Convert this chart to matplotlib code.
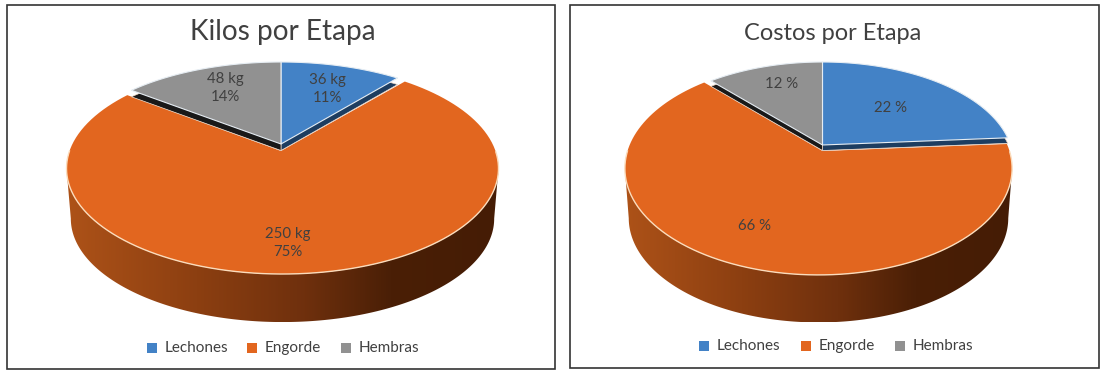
import numpy as np
import matplotlib
matplotlib.use('Agg')
import matplotlib.pyplot as plt
from matplotlib.colors import LinearSegmentedColormap
from matplotlib.patches import Polygon, Rectangle

categories = ['Lechones', 'Engorde', 'Hembras']
kilos = [36, 250, 48]
kilos_pct = [11, 75, 14]
costos = [22, 66, 12]
# slice shares as drawn in the right chart, differ a bit from its typed labels
costos_drawn = [23.8, 64.6, 11.6]

COLORS = ['#4382c6', '#e2661f', '#919191']
STRIP = ['#1d3d60', None, '#191919']
TEXT = '#404040'
plt.rcParams['font.family'] = ['Lato', 'DejaVu Sans']

wall_cmap = LinearSegmentedColormap.from_list(
    'wall', [(0, '#ad5218'), (0.3, '#8c3f11'), (0.55, '#6f300d'),
             (0.75, '#4a1f06'), (1, '#451c05')])


def project(theta, pie, scale=1.0, drop=0.0):
    # theta runs clockwise from the top of the pie, in radians
    u, v = np.sin(theta), np.cos(theta)
    w = 1 + pie['k'] * v
    x = pie['x'] + scale * pie['b'] * u / w
    y = pie['y'] + drop - scale * pie['a'] * v / w
    return x, y


def sector(t0, t1, pie, apex_x=None, shift=0.0):
    t = np.linspace(t0, t1, 120)
    x, y = project(t, pie)
    x = np.r_[pie['x'] if apex_x is None else apex_x, x]
    y = np.r_[pie['y'], y] + shift
    return np.column_stack([x, y])


def draw_pie(ax, values, pie, top):
    values = np.array(values, dtype=float)
    edges = np.r_[0, np.cumsum(values)] / values.sum() * 2 * np.pi

    # side wall with a horizontal gradient
    t = np.linspace(0, 2 * np.pi, 721)
    xt, yt = project(t, pie)
    xb, yb = project(t, pie, pie['scale'], pie['depth'])
    i_r, i_l = np.argmax(xt), np.argmin(xt)
    j_r, j_l = np.argmax(xb), np.argmin(xb)
    wall = np.r_[np.column_stack([xt[i_r:i_l + 1], yt[i_r:i_l + 1]])[::-1],
                 np.column_stack([xb[j_r:j_l + 1], yb[j_r:j_l + 1]])]
    im = ax.imshow(np.linspace(0, 1, 256)[None, :], cmap=wall_cmap, aspect='auto',
                   extent=(xt.min(), xt.max(), yb.max(), yt.min()), zorder=1)
    im.set_clip_path(Polygon(wall, closed=True, transform=ax.transData))

    # orange first, the two other slices sit on top with a dark strip under them
    gap = np.radians(pie['gap'])
    ax.add_patch(Polygon(sector(edges[1] + gap, edges[2] - gap, pie, top['x']),
                         fc=COLORS[1], ec='none', zorder=2))
    low = (t > edges[1]) & (t < edges[2]) & (yt > pie['y'])
    ax.plot(xt[low], yt[low], color='#fbdcbc', lw=1.0, zorder=3)
    for i in (0, 2):
        ax.add_patch(Polygon(sector(edges[i], edges[i + 1], top, shift=top['strip']),
                             fc=STRIP[i], ec='#f3d9c4', lw=0.5, zorder=4))
    for i in (0, 2):
        ax.add_patch(Polygon(sector(edges[i], edges[i + 1], top),
                             fc=COLORS[i], ec='#e6edf3', lw=0.8, zorder=5))


def draw_legend(ax, marks, labels_x, y, size):
    for m, lx, name, c in zip(marks, labels_x, categories, COLORS):
        ax.scatter([m], [y], marker='s', s=size, color=c, linewidths=0, zorder=6)
        ax.text(lx, y, name, color=TEXT, fontsize=11, va='center', ha='left', zorder=6)


fig = plt.figure(figsize=(11, 3.77), dpi=100)
ax = fig.add_axes([0, 0, 1, 1])

left = dict(x=282.5, y=151, a=102.6, b=213, k=0.166, scale=0.98, depth=50.5, gap=1.5)
left_top = dict(x=281, y=144, a=95.6, b=210, k=0.166, strip=6.5)
right = dict(x=818.5, y=151, a=103.6, b=191, k=0.164, scale=0.98, depth=50, gap=0.4)
right_top = dict(x=822.5, y=145, a=96.6, b=188, k=0.164, strip=5.5)

draw_pie(ax, kilos, left, left_top)
draw_pie(ax, costos_drawn, right, right_top)

ax.add_patch(Rectangle((6.5, 5), 548, 364, fc='none', ec='#333333', lw=1.2, zorder=7))
ax.add_patch(Rectangle((569.5, 5), 529, 363, fc='none', ec='#333333', lw=1.2, zorder=7))

ax.text(283, 32, 'Kilos por Etapa', color=TEXT, fontsize=20.2, ha='center', va='center', zorder=6)
ax.text(833, 33, 'Costos por Etapa', color=TEXT, fontsize=17, ha='center', va='center', zorder=6)

# data labels, left chart
label_pos = [(327, 89), (288, 243), (225, 88)]
for (x, y), kg, pc in zip(label_pos, kilos, kilos_pct):
    ax.text(x, y, f'{kg} kg\n{pc}%', color=TEXT, fontsize=10.8, ha='center', va='center',
            linespacing=1.35, zorder=6)
# data labels, right chart
cost_pos = [(890, 108), (755, 226), (782, 84)]
for (x, y), pc in zip(cost_pos, costos):
    ax.text(x, y, f'{pc} %', color=TEXT, fontsize=10.8, ha='center', va='center', zorder=6)

draw_legend(ax, [151.5, 252, 346], [165, 265, 359], 348, 45)
draw_legend(ax, [703.5, 805.5, 899.5], [717, 818.5, 913], 346, 45)

ax.set_xlim(0, 1100)
ax.set_ylim(377, 0)
ax.axis('off')
fig.savefig('out.png', dpi=100, facecolor='white')
